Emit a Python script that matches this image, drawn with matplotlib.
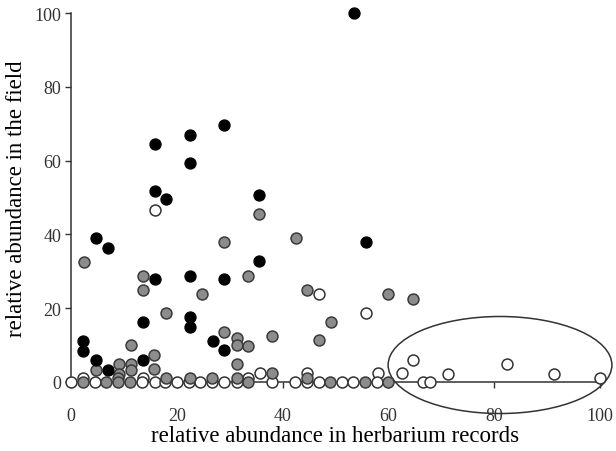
import matplotlib
matplotlib.use("Agg")
import matplotlib.pyplot as plt
from matplotlib.patches import Ellipse

plt.rcParams['font.family'] = ['Liberation Serif', 'DejaVu Serif']

black_x = [2.3, 2.3, 4.7, 4.7, 7, 7, 13.6, 13.6, 15.8, 15.8, 15.8, 18, 22.5, 22.5, 22.5,
           22.5, 22.5, 26.8, 29, 29, 29, 35.6, 35.6, 53.5, 55.8]
black_y = [11.1, 8.5, 39, 6, 36.3, 3.3, 16.3, 6, 64.5, 51.8, 27.8, 49.5, 67, 59.4, 28.8,
           17.6, 15, 11.2, 69.6, 27.8, 8.6, 50.7, 32.7, 100, 37.9]

gray_x = [2.5, 4.7, 9.1, 9.1, 11.3, 11.3, 11.3, 13.6, 13.6, 15.7, 15.7, 18, 24.8, 28.9,
          28.9, 31.4, 31.4, 31.4, 33.5, 33.5, 35.6, 38, 38, 42.5, 44.6, 46.8, 49.1, 60,
          64.6, 8.9, 22.4, 26.7, 18, 44.6, 31.4,
          2.3, 6.7, 8.9, 11.2, 33.5, 49, 55.6, 60]
gray_y = [32.6, 3.3, 4.9, 2.2, 10, 4.9, 3.3, 28.8, 25, 7.3, 3.5, 18.7, 23.8, 37.9,
          13.6, 11.8, 10, 4.9, 28.8, 9.8, 45.5, 12.5, 2.4, 39, 25, 11.4, 16.3, 23.8,
          22.5, 1.0, 1.2, 1.2, 1.0, 1.2, 1.0,
          0, 0, 0, 0, 0, 0, 0, 0]

white_x = [15.9, 46.9, 55.8, 64.6, 62.5, 58, 44.6, 35.7, 33.5, 2.3, 13.6, 71.3, 82.4,
           91.3, 100,
           0, 4.5, 13.5, 15.8, 17.8, 20.1, 22.3, 24.4, 26.6, 29, 31.3, 37.9, 42.3, 44.6,
           46.8, 51.2, 53.4, 57.8, 66.6, 67.9]
white_y = [46.6, 23.8, 18.7, 6, 2.3, 2.3, 2.3, 2.3, 1.0, 1.0, 1.0, 2.2, 4.8, 2.2, 1.0,
           0, 0, 0, 0, 0, 0, 0, 0, 0, 0, 0, 0, 0, 0,
           0, 0, 0, 0, 0, 0]

x_ticks = [0, 20, 40, 60, 80, 100]
y_ticks = [0, 20, 40, 60, 80, 100]

fig = plt.figure(figsize=(6.16, 4.52), dpi=100)
ax = fig.add_axes([0.1153, 0.1527, 0.8587, 0.8163])

ms = 62
ax.scatter(white_x, white_y, s=ms, facecolor='white', edgecolor='#333333',
           linewidth=1.1, clip_on=False, zorder=3)
ax.scatter(gray_x, gray_y, s=ms, facecolor='#8c8c8c', edgecolor='#3a3a3a',
           linewidth=1.1, clip_on=False, zorder=4)
ax.scatter(black_x, black_y, s=ms, facecolor='black', edgecolor='black',
           linewidth=1.0, clip_on=False, zorder=5)

ell = Ellipse((81.1, 4.6), 42.3, 26.3, fill=False, edgecolor='#333333',
              linewidth=1.1, clip_on=False, zorder=2)
ax.add_patch(ell)

ax.set_xlim(0, 100)
ax.set_ylim(0, 100)
ax.set_xticks(x_ticks)
ax.set_yticks(y_ticks)
ax.spines['top'].set_visible(False)
ax.spines['right'].set_visible(False)
for s in ['left', 'bottom']:
    ax.spines[s].set_color('#333333')
    ax.spines[s].set_linewidth(1.1)
ax.tick_params(axis='both', labelsize=13, colors='#333333', length=4, width=1.0,
               direction='out')
ax.tick_params(axis='x', pad=14)
ax.tick_params(axis='y', pad=3)
ax.set_xlabel('relative abundance in herbarium records', fontsize=16.5, labelpad=1)
ax.set_ylabel('relative abundance in the field', fontsize=16.5, labelpad=5)

fig.savefig('out.png', dpi=100)
